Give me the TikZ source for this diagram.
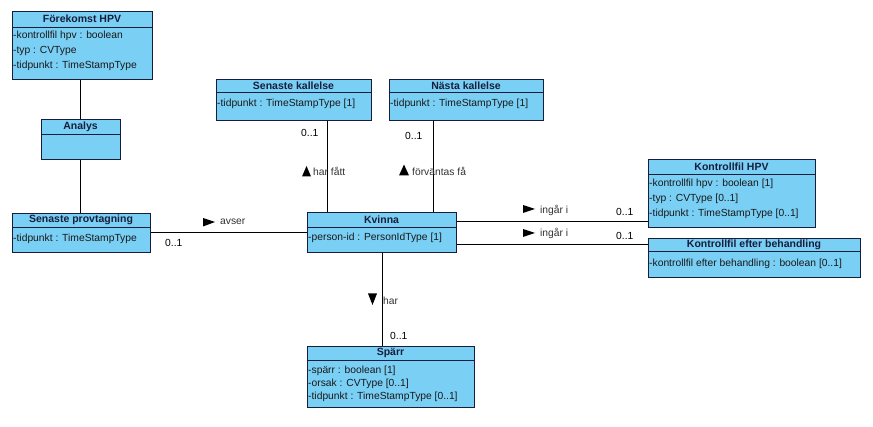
\documentclass[tikz,border=0pt]{standalone}
\usepackage{fontspec}
\setmainfont{Liberation Sans}
\definecolor{clsfill}{RGB}{122,207,245}
\definecolor{clsdraw}{RGB}{22,30,60}
\definecolor{lbltext}{RGB}{50,50,50}
\tikzset{
  clsbox/.style={draw=clsdraw, fill=clsfill, line width=0.9pt, inner sep=0pt, anchor=north west},
  sepline/.style={draw=clsdraw, line width=0.8pt},
  ttl/.style={font=\fontsize{10.5}{12}\selectfont\bfseries, text=clsdraw, inner sep=0pt},
  attr/.style={font=\fontsize{10.3}{12}\selectfont, text=black!90, inner sep=0pt, anchor=west},
  conn/.style={draw=black, line width=0.8pt},
  lbl/.style={font=\fontsize{10.3}{12}\selectfont, text=lbltext, inner sep=0pt, anchor=west},
  mult/.style={font=\fontsize{10.3}{12}\selectfont, text=black, inner sep=0pt, anchor=west},
}
% #1 name, #2 x1, #3 y1, #4 x2, #5 y2, #6 header bottom, #7 title
\newcommand\umlclassbox[7]{%
  \node[clsbox, minimum width={(#4-#2)*1pt}, minimum height={(#5-#3)*1pt}] (#1) at (#2,#3) {};
  \draw[sepline] (#2,#6) -- (#4,#6);
  \node[ttl] (#1-t) at ({(#2+#4)/2},{(#3+#6)/2}) {#7};
}
\begin{document}
\begin{tikzpicture}[x=1pt,y=-1pt]
\useasboundingbox[fill=white] (0,0) rectangle (873,427);

% classes
\umlclassbox{fhpv}{12}{11}{152}{79}{27}{Förekomst HPV}
\node[attr] (fhpv-a1) at (13,36) {-kontrollfil hpv : boolean};
\node[attr] (fhpv-a2) at (13,51) {-typ : CVType};
\node[attr] (fhpv-a3) at (13,66) {-tidpunkt : TimeStampType};

\umlclassbox{analys}{41}{119}{120}{159}{134}{Analys}

\umlclassbox{senp}{12}{213}{150}{252}{227}{Senaste provtagning}
\node[attr] (senp-a1) at (13,238.5) {-tidpunkt : TimeStampType};

\umlclassbox{senk}{216}{79}{371}{120}{92}{Senaste kallelse}
\node[attr] (senk-a1) at (217,104) {-tidpunkt : TimeStampType [1]};

\umlclassbox{nk}{389}{79}{543}{120}{92}{Nästa kallelse}
\node[attr] (nk-a1) at (390,104) {-tidpunkt : TimeStampType [1]};

\umlclassbox{kv}{307}{212}{456}{252}{227}{Kvinna}
\node[attr] (kv-a1) at (308,238) {-person-id : PersonIdType [1]};

\umlclassbox{khpv}{648}{159}{815}{227}{174}{Kontrollfil HPV}
\node[attr] (khpv-a1) at (649,184) {-kontrollfil hpv : boolean [1]};
\node[attr] (khpv-a2) at (649,199) {-typ : CVType [0..1]};
\node[attr] (khpv-a3) at (649,214) {-tidpunkt : TimeStampType [0..1]};

\umlclassbox{keb}{648}{238}{860}{277}{251}{Kontrollfil efter behandling}
\node[attr] (keb-a1) at (649,263.5) {-kontrollfil efter behandling : boolean [0..1]};

\umlclassbox{sp}{307}{346}{474}{407}{360}{Spärr}
\node[attr] (sp-a1) at (308,370.5) {-spärr : boolean [1]};
\node[attr] (sp-a2) at (308,383.5) {-orsak : CVType [0..1]};
\node[attr] (sp-a3) at (308,396.5) {-tidpunkt : TimeStampType [0..1]};

% connector positions
\coordinate (xa) at (80,0);
\coordinate (xsk) at (327,0);
\coordinate (xnk) at (433,0);
\coordinate (xsp) at (382,0);
\coordinate (ysp) at (0,232);
\coordinate (yh) at (0,221);
\coordinate (yeb) at (0,244);

\draw[conn] (fhpv.south -| xa) -- (analys.north -| xa);
\draw[conn] (analys.south -| xa) -- (senp.north -| xa);
\draw[conn] (senp.east |- ysp) -- (kv.west |- ysp);
\draw[conn] (senk.south -| xsk) -- (kv.north -| xsk);
\draw[conn] (nk.south -| xnk) -- (kv.north -| xnk);
\draw[conn] (kv.east |- yh) -- (khpv.west |- yh);
\draw[conn] (kv.east |- yeb) -- (keb.west |- yeb);
\draw[conn] (kv.south -| xsp) -- (sp.north -| xsp);

% association labels
\node[lbl] (l-avser) at (220,222) {avser};
\fill (203,218) -- (215,222) -- (203,226.5) -- cycle;
\node[mult] (m-senp) at (165,243) {0..1};

\node[lbl] (l-fatt) at (313,171.5) {har fått};
\fill (306.5,166) -- (311,176.5) -- (302,176.5) -- cycle;
\node[mult] (m-senk) at (301,133) {0..1};

\node[lbl] (l-forv) at (412,171) {förväntas få};
\fill (404,164.5) -- (409,175.5) -- (399,175.5) -- cycle;
\node[mult] (m-nk) at (405,136) {0..1};

\node[lbl] (l-ing1) at (540,210) {ingår i};
\fill (523,205) -- (535,209) -- (523,213) -- cycle;
\node[mult] (m-khpv) at (616,212) {0..1};

\node[lbl] (l-ing2) at (540,233) {ingår i};
\fill (523,229) -- (535,233) -- (523,237) -- cycle;
\node[mult] (m-keb) at (616,236) {0..1};

\node[lbl] (l-har) at (383,300.5) {har};
\fill (368,293.5) -- (377,293.5) -- (372.5,305) -- cycle;
\node[mult] (m-sp) at (390,336) {0..1};
\end{tikzpicture}
\end{document}
